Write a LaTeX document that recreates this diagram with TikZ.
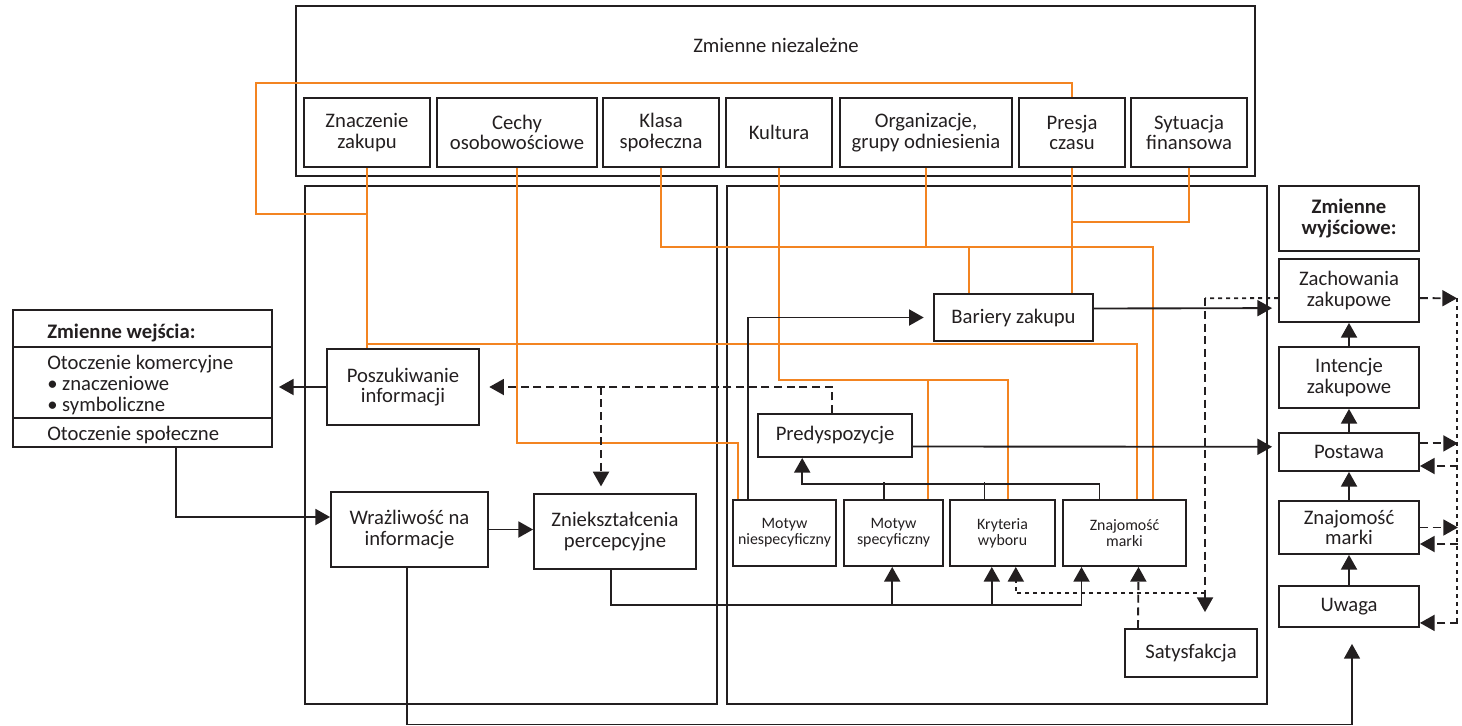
\documentclass[tikz,border=0pt]{standalone}
\usepackage{fontspec}
\setmainfont{Carlito}
\usetikzlibrary{arrows.meta}
\usetikzlibrary{calc}
\definecolor{pom}{RGB}{243,132,33}
\definecolor{ink}{RGB}{35,31,32}

\begin{document}
\begin{tikzpicture}[x=.75pt, y=-.75pt,
  >={Triangle[length=11pt,width=12pt]},
  cnr/.style n args={4}{at={({(#1+#3)/2},{(#2+#4)/2})}, minimum width={(#3-#1)*0.75pt}, minimum height={(#4-#2)*0.75pt}},
  bx/.style={draw=ink, line width=1.4pt, inner sep=0pt, align=center, text=ink, font=\fontsize{15.5}{15.5}\selectfont},
  sm/.style={bx, font=\fontsize{11.9}{12}\selectfont},
  tx/.style={text=ink, inner sep=0pt, font=\fontsize{15.5}{15.5}\selectfont},
  ln/.style={ink, line width=1.4pt},
  thn/.style={ink, line width=1pt},
  org/.style={pom, line width=1.5pt},
  dsh/.style={ln, dash pattern=on 6pt off 3.5pt},
  dts/.style={ln, dash pattern=on 3pt off 3pt}]
\useasboundingbox (0,0) rectangle (1462,725);

\node[bx, cnr={296}{6}{1255}{176}] (niezal) {};
\node[tx] (tytul) at (776,45) {Zmienne niezależne};
\node[bx, cnr={305}{186}{717}{704}] (lewy) {};
\node[bx, cnr={727}{186}{1267}{704}] (prawy) {};

\node[bx, cnr={304}{98}{430}{167}] (znaczenie) {Znaczenie\\zakupu};
\node[bx, cnr={437}{98}{597}{167}] (cechy) {Cechy\\osobowościowe};
\node[bx, cnr={603}{98}{719}{167}] (klasa) {Klasa\\społeczna};
\node[bx, cnr={726}{98}{832}{167}] (kultura) {Kultura};
\node[bx, cnr={840}{98}{1012}{167}] (organiz) {Organizacje,\\grupy odniesienia};
\node[bx, cnr={1019}{98}{1125}{167}] (presja) {Presja\\czasu};
\node[bx, cnr={1131}{98}{1247}{167}] (sytuacja) {Sytuacja\\finansowa};

\node[bx, cnr={13}{310}{272}{347}] (wejA) {};
\node[bx, cnr={13}{347}{272}{418}] (wejB) {};
\node[bx, cnr={13}{418}{272}{447}] (wejC) {};
\node[tx, anchor=base west, font=\fontsize{15.5}{15.5}\selectfont\bfseries] (wejT) at (47,338.3) {Zmienne wejścia:};
\node[tx, anchor=base west] (otk) at (47,369) {Otoczenie komercyjne};
\node[tx, anchor=base west] (otz) at (47,390) {• znaczeniowe};
\node[tx, anchor=base west] (ots) at (47,411.7) {• symboliczne};
\node[tx, anchor=base west] (otsp) at (47,440.7) {Otoczenie społeczne};

\node[bx, cnr={327}{349}{479}{425}] (poszuk) {Poszukiwanie\\informacji};
\node[bx, cnr={331}{492}{488}{567}] (wraz) {Wrażliwość na\\informacje};
\node[bx, cnr={534}{494}{696}{569}] (znieksz) {Zniekształcenia\\percepcyjne};

\node[bx, cnr={934}{294}{1093}{341}] (bariery) {Bariery zakupu};
\node[bx, cnr={758}{414}{912}{457}] (predysp) {Predyspozycje};
\node[sm, cnr={733}{500}{836}{566}] (mn) {Motyw\\niespecyficzny};
\node[sm, cnr={844}{500}{943}{566}] (ms) {Motyw\\specyficzny};
\node[sm, cnr={950}{500}{1055}{566}] (kryt) {Kryteria\\wyboru};
\node[sm, cnr={1063}{500}{1186}{566}] (znam) {Znajomość\\marki};
\node[bx, cnr={1125}{629}{1257}{677}] (satysf) {Satysfakcja};

\node[bx, cnr={1279}{186}{1419}{251}, font=\fontsize{15.5}{15.5}\selectfont\bfseries] (wyj) {Zmienne\\wyjściowe:};
\node[bx, cnr={1279}{259}{1419}{322}] (zach) {Zachowania\\zakupowe};
\node[bx, cnr={1279}{347}{1419}{408}] (intenc) {Intencje\\zakupowe};
\node[bx, cnr={1279}{433}{1419}{471}] (postawa) {Postawa};
\node[bx, cnr={1279}{501}{1419}{554}] (znamR) {Znajomość\\marki};
\node[bx, cnr={1279}{586}{1419}{627}] (uwaga) {Uwaga};

\coordinate (zw) at (1205,298.3);
\coordinate (zd) at (1205,593.3);
\coordinate (fbT) at (1457,298.3);
\coordinate (fbB) at (1457,622.7);

\draw[org] (presja.north) -- ++(0,-14.4) -| (256,214) -- (znaczenie.south |- 0,214);
\draw[org] (znaczenie.south) -- (znaczenie.south |- poszuk.north);
\draw[org] (znaczenie.south |- 0,344.3) -| ($(znam.north)+(12,0)$);
\draw[org] (cechy.south) |- ($(mn.north west)+(6,-56)$) -- ($(mn.north west)+(6,0)$);
\draw[org] (klasa.south) |- ($(znam.north)+(28.5,-252.5)$) -- ($(znam.north)+(28.5,0)$);
\draw[org] (organiz.south) -- (organiz.south |- 0,247.5);
\draw[org] ($(bariery.north)+(-44.5,-46.5)$) -- ($(bariery.north)+(-44.5,0)$);
\draw[org] (presja.south) -- (presja.south |- bariery.north);
\draw[org] (sytuacja.south) |- (presja.south |- 0,221.7);
\draw[org] (kultura.south) |- ($(kryt.north)+(5,-119.3)$) -- ($(kryt.north)+(5,0)$);
\draw[org] ($(ms.north)+(34,-119.3)$) -- ($(ms.north)+(34,0)$);

\draw[ln,->,shorten >=4.5pt] (poszuk.west) -- (poszuk.west -| wejB.east);
\draw[ln,->] ($(wejC.south)+(33.2,0)$) |- ($(wraz.west)+(0,-12.5)$);
\draw[ln,->] (wraz.east) -- (wraz.east -| znieksz.west);
\draw[ln] ($(znieksz.south)+(-4,0)$) |- ($(znam.south)+(-43,38.3)$);
\foreach \n/\o in {ms/-1.3, kryt/-10.7, znam/-43}
  \draw[ln,->] ($(\n.south)+(\o,38.3)$) -- ($(\n.south)+(\o,0)$);
\draw[thn,->] ($(wraz.south)+(-2.6,0)$) |- ($(uwaga.south)+(3,96.6)$) -- ($(uwaga.south)+(3,16)$);
\draw[ln,->,shorten >=7pt] ($(mn.north)+(-36.6,0)$) |- (bariery.west);
\draw[ln,->,shorten >=4.5pt] ($(bariery.east)+(0,-9)$) -- ($(zach.west)+(0,17.6)$);
\draw[ln,->,shorten >=4.5pt] ($(predysp.east)+(0,11)$) -- ($(postawa.west)+(0,-5.2)$);
\draw[ln,->] ($(znam.north)+(-25,0)$) |- ($(predysp.south)+(-32.8,26)$) -- ($(predysp.south)+(-32.8,0)$);
\foreach \n/\o in {ms/-9.3, kryt/-18}
  \draw[ln] ($(\n.north)+(\o,0)$) -- ++(0,-16.7);
\foreach \a/\b in {uwaga/znamR, znamR/postawa, postawa/intenc, intenc/zach}
  \draw[ln,->] (\a.north) -- (\b.south);

\draw[dsh,->,shorten >=7pt] ($(predysp.north)+(-3,0)$) |- (poszuk.east);
\draw[dsh,->,shorten >=5pt] ($(znieksz.north)+(-14,-106.3)$) -- ($(znieksz.north)+(-14,0)$);
\draw[dsh,->] ($(satysf.north)+(-53,0)$) -- ($(znam.south)+(14,0)$);
\draw[dts] ($(zach.west)+(0,7.6)$) -- (zw);
\draw[dsh,->] (zw) -- ($(satysf.north)+(14,-16)$);
\draw[dts,->] (zd) -| ($(kryt.south)+(13.3,0)$);

\draw[dsh,->] ($(zach.east)+(0,7.6)$) -- (fbT);
\draw[dts] (fbT) -- (fbB);
\foreach \b/\o in {postawa/-8.6, znamR/0}
  \draw[dsh,->] ($(\b.east)+(0,\o)$) -- ($(\b.east)+(38,\o)$);
\foreach \b/\o in {postawa/14, znamR/16.5, uwaga/16.4}
  \draw[dsh,->] ($(\b.east)+(38,\o)$) -- ($(\b.east)+(0,\o)$);
\end{tikzpicture}
\end{document}
